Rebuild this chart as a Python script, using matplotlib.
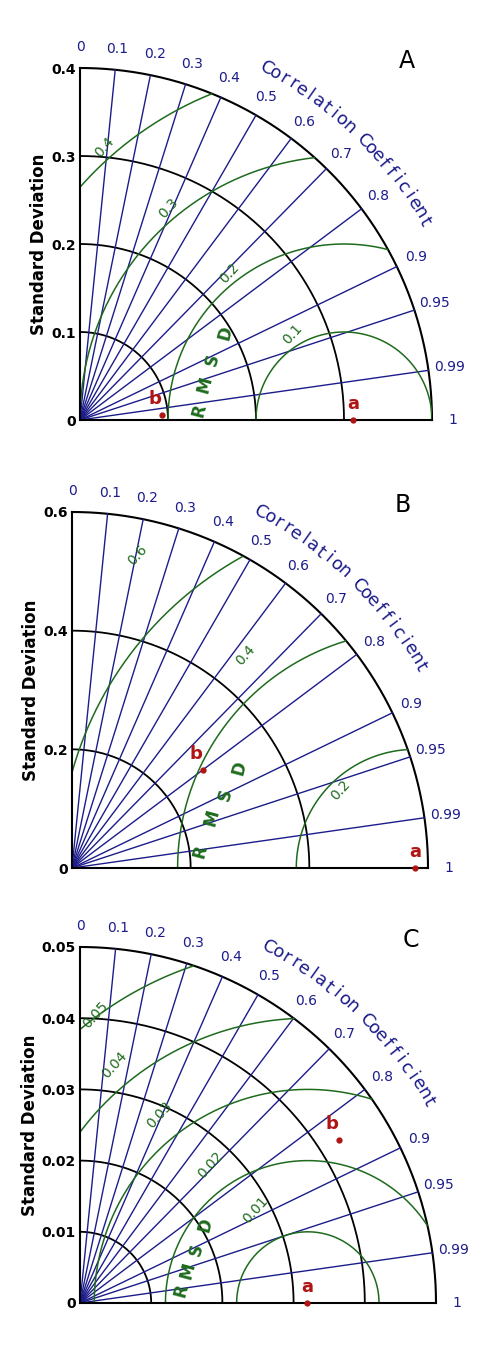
import numpy as np
import matplotlib
matplotlib.use("Agg")
import matplotlib.pyplot as plt

corr_ticks = [0, 0.1, 0.2, 0.3, 0.4, 0.5, 0.6, 0.7, 0.8, 0.9, 0.95, 0.99, 1]
corr_labels = ["0", "0.1", "0.2", "0.3", "0.4", "0.5", "0.6", "0.7", "0.8", "0.9", "0.95", "0.99", "1"]

# Panel A
A_max = 0.4
A_std_ticks = [0, 0.1, 0.2, 0.3, 0.4]
A_ref = 0.30
A_rmsd = [0.1, 0.2, 0.3, 0.4]
A_rmsd_lab_pos = [(0.242, 0.097), (0.170, 0.167), (0.100, 0.241), (0.028, 0.310)]
A_rmsd_letters = [(0.136, 0.011), (0.142, 0.040), (0.151, 0.068), (0.165, 0.099)]
A_points = {"a": (0.31, 1.0), "b": (0.093, 0.998)}

# Panel B
B_max = 0.6
B_std_ticks = [0, 0.2, 0.4, 0.6]
B_ref = 0.578
B_rmsd = [0.2, 0.4, 0.6]
B_rmsd_lab_pos = [(0.452, 0.131), (0.292, 0.359), (0.111, 0.527)]
B_rmsd_letters = [(0.216, 0.027), (0.236, 0.084), (0.258, 0.123), (0.283, 0.169)]
B_points = {"a": (0.578, 1.0), "b": (0.276, 0.80)}

# Panel C
C_max = 0.05
C_std_ticks = [0, 0.01, 0.02, 0.03, 0.04, 0.05]
C_ref = 0.032
C_rmsd = [0.01, 0.02, 0.03, 0.04, 0.05]
C_rmsd_lab_pos = [(0.0246, 0.0131), (0.0183, 0.0194), (0.0112, 0.0264), (0.0049, 0.0334), (0.0021, 0.0404)]
C_rmsd_letters = [(0.0143, 0.0018), (0.0152, 0.0046), (0.0163, 0.0074), (0.0176, 0.0110)]
C_points = {"a": (0.0319, 1.0), "b": (0.043, 0.846)}

W, H = 478, 1372
fig = plt.figure(figsize=(W / 100, H / 100), dpi=100)

BLUE = "#1c1c8a"
GREEN = "#1e6b1e"
RED = "#b01515"


def fmt(v):
    return "%g" % v


def panel(ox, oy, rpx, R, std_ticks, ref, rmsd, lab_pos, letters, points, letter, black_arcs):
    ax = fig.add_axes([ox / W, (H - oy) / H, rpx / W, rpx / H])
    ax.set_xlim(0, R)
    ax.set_ylim(0, R)
    for s in ["top", "right"]:
        ax.spines[s].set_visible(False)
    for s in ["left", "bottom"]:
        ax.spines[s].set_linewidth(1.5)
    ax.set_xticks([])
    ax.set_yticks(std_ticks)
    ax.set_yticklabels([fmt(v) for v in std_ticks], fontweight="bold", fontsize=10)
    ax.tick_params(axis="y", length=0, pad=3)
    ax.set_ylabel("Standard Deviation", fontweight="bold", fontsize=12, labelpad=2)
    th = np.linspace(0, np.pi / 2, 300)
    for r in black_arcs:
        ax.plot(r * np.cos(th), r * np.sin(th), color="black", lw=1.3, clip_on=False)
    ax.plot(R * np.cos(th), R * np.sin(th), color="black", lw=1.5, clip_on=False)
    for c, lab in zip(corr_ticks, corr_labels):
        a = np.arccos(c)
        if 0 < c < 1:
            ax.plot([0, R * np.cos(a)], [0, R * np.sin(a)], color=BLUE, lw=1.0)
        rr = 1.06 * R
        ax.text(rr * np.cos(a), rr * np.sin(a), lab, color=BLUE, fontsize=10,
                ha="center", va="center", clip_on=False)
    t = np.linspace(0, np.pi, 600)
    for r in rmsd:
        x = ref + r * np.cos(t)
        y = r * np.sin(t)
        m = np.hypot(x, y) <= R
        x = np.where(m, x, np.nan)
        y = np.where(m, y, np.nan)
        ax.plot(x, y, color=GREEN, lw=1.1)
    for r, (x, y) in zip(rmsd, lab_pos):
        ax.text(x, y, fmt(r), color=GREEN, fontsize=10, rotation=48,
                ha="center", va="center")
    for ch, (x, y) in zip("RMSD", letters):
        ax.text(x, y, ch, color=GREEN, fontsize=12, fontweight="bold", rotation=75,
                ha="center", va="center")
    txt = "Correlation Coefficient"
    angs = np.linspace(np.radians(62), np.radians(30), len(txt))
    for ch, a in zip(txt, angs):
        rr = 1.13 * R
        ax.text(rr * np.cos(a), rr * np.sin(a), ch, color=BLUE, fontsize=13,
                rotation=np.degrees(a) - 90, ha="center", va="center", clip_on=False)
    for name, (s, c) in points.items():
        a = np.arccos(c)
        x, y = s * np.cos(a), s * np.sin(a)
        ax.plot(x, y, "o", color=RED, ms=3.5, clip_on=False, zorder=5)
        ax.text(x - 0.02 * R if name == "b" else x, y + 0.045 * R, name, color=RED,
                fontsize=13, fontweight="bold", ha="center", va="center")
    ax.text(0.93 * R, 1.02 * R, letter, fontsize=17, ha="center", va="center",
            clip_on=False)


panel(80, 420, 352, A_max, A_std_ticks, A_ref, A_rmsd, A_rmsd_lab_pos, A_rmsd_letters,
      A_points, "A", [0.1, 0.2, 0.3])
panel(72, 868, 356, B_max, B_std_ticks, B_ref, B_rmsd, B_rmsd_lab_pos, B_rmsd_letters,
      B_points, "B", [0.2, 0.4])
panel(80, 1303, 356, C_max, C_std_ticks, C_ref, C_rmsd, C_rmsd_lab_pos, C_rmsd_letters,
      C_points, "C", [0.01, 0.02, 0.03, 0.04])

fig.savefig("out.png", dpi=100)
